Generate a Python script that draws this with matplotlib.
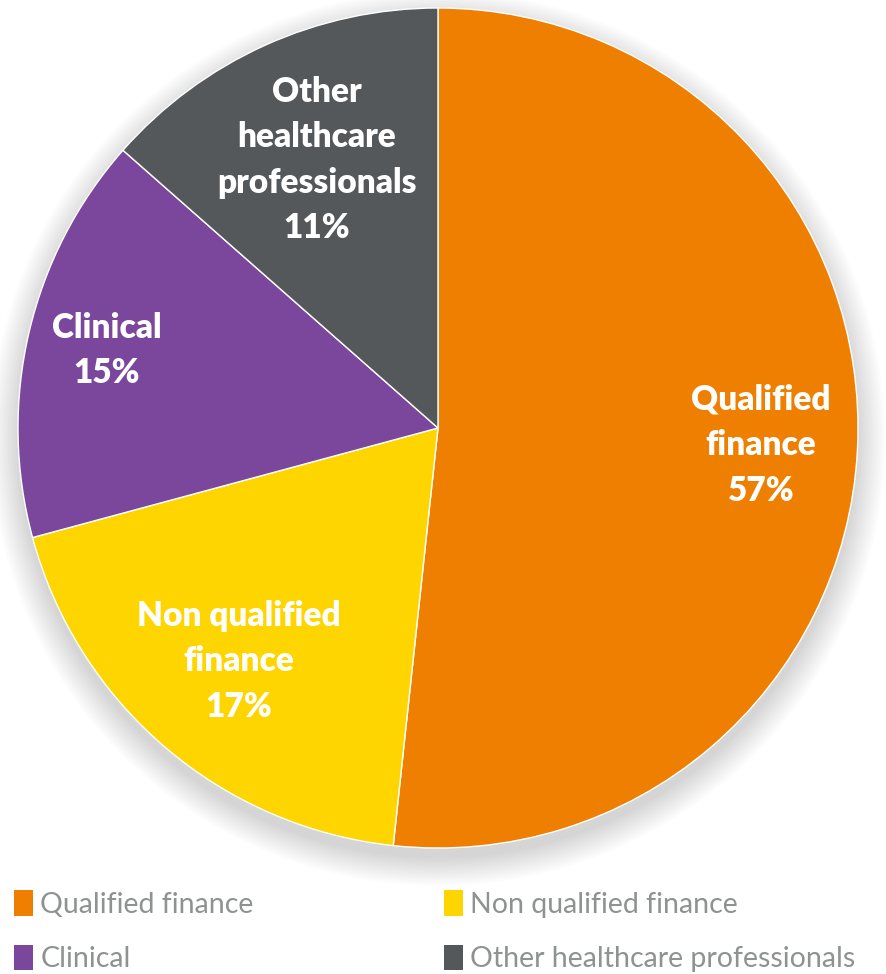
import numpy as np
import matplotlib
matplotlib.use("Agg")
import matplotlib.pyplot as plt
from matplotlib.patches import Circle, Patch

# data (slice shares, label text as printed)
categories = ["Qualified finance", "Non qualified finance", "Clinical",
              "Other healthcare professionals"]
label_names = ["Qualified\nfinance", "Non qualified\nfinance", "Clinical",
               "Other\nhealthcare\nprofessionals"]
shares = [51.7, 19.1, 15.7, 13.5]
pct_text = ["57%", "17%", "15%", "11%"]
colors = ["#EF7F00", "#FFD500", "#7A479C", "#54585A"]

# label placement (radius as fraction of pie radius)
label_r = [0.77, 0.73, 0.81, 0.70]

W, H = 887, 974
fig = plt.figure(figsize=(W / 100, H / 100), dpi=100)
fig.patch.set_facecolor("white")

# pie box: x 18..858 px, y 8..848 px from the top
ax = fig.add_axes([18 / W, (H - 848) / H, 840 / W, 840 / H])

# soft shadow round the pie
for i in range(14):
    ax.add_patch(Circle((0, -0.025), 1.0 + i * 0.005, color="#000000",
                        alpha=0.012, lw=0, zorder=0, clip_on=False))

wedges, _ = ax.pie(shares, colors=colors, startangle=90, counterclock=False,
                   radius=1.0, frame=True,
                   wedgeprops=dict(edgecolor="white", linewidth=1.0))
for w in wedges:
    w.set_zorder(2)
ax.set_xlim(-1, 1)
ax.set_ylim(-1, 1)
ax.axis("off")

for w, name, pct, r in zip(wedges, label_names, pct_text, label_r):
    mid = np.deg2rad((w.theta1 + w.theta2) / 2)
    ax.text(r * np.cos(mid), r * np.sin(mid), name + "\n" + pct,
            ha="center", va="center", color="white", fontsize=24,
            fontweight="heavy", family="Lato", linespacing=1.52, zorder=3)

# legend fills column by column, so reorder to get the rows right
order = [0, 2, 1, 3]
handles = [Patch(facecolor=colors[i], edgecolor="none") for i in order]
names = [categories[i] for i in order]
leg = fig.legend(handles, names, loc="upper left",
                 bbox_to_anchor=(0.0, 1 - 876 / H), ncol=2, frameon=False,
                 prop=dict(family="Lato", size=20.5), labelcolor="#8E9291",
                 handlelength=0.67, handleheight=1.0, handletextpad=0.24,
                 columnspacing=6.7, labelspacing=0.95, borderaxespad=0.3,
                 borderpad=0.2)

fig.savefig("out.png", dpi=100, facecolor="white")
